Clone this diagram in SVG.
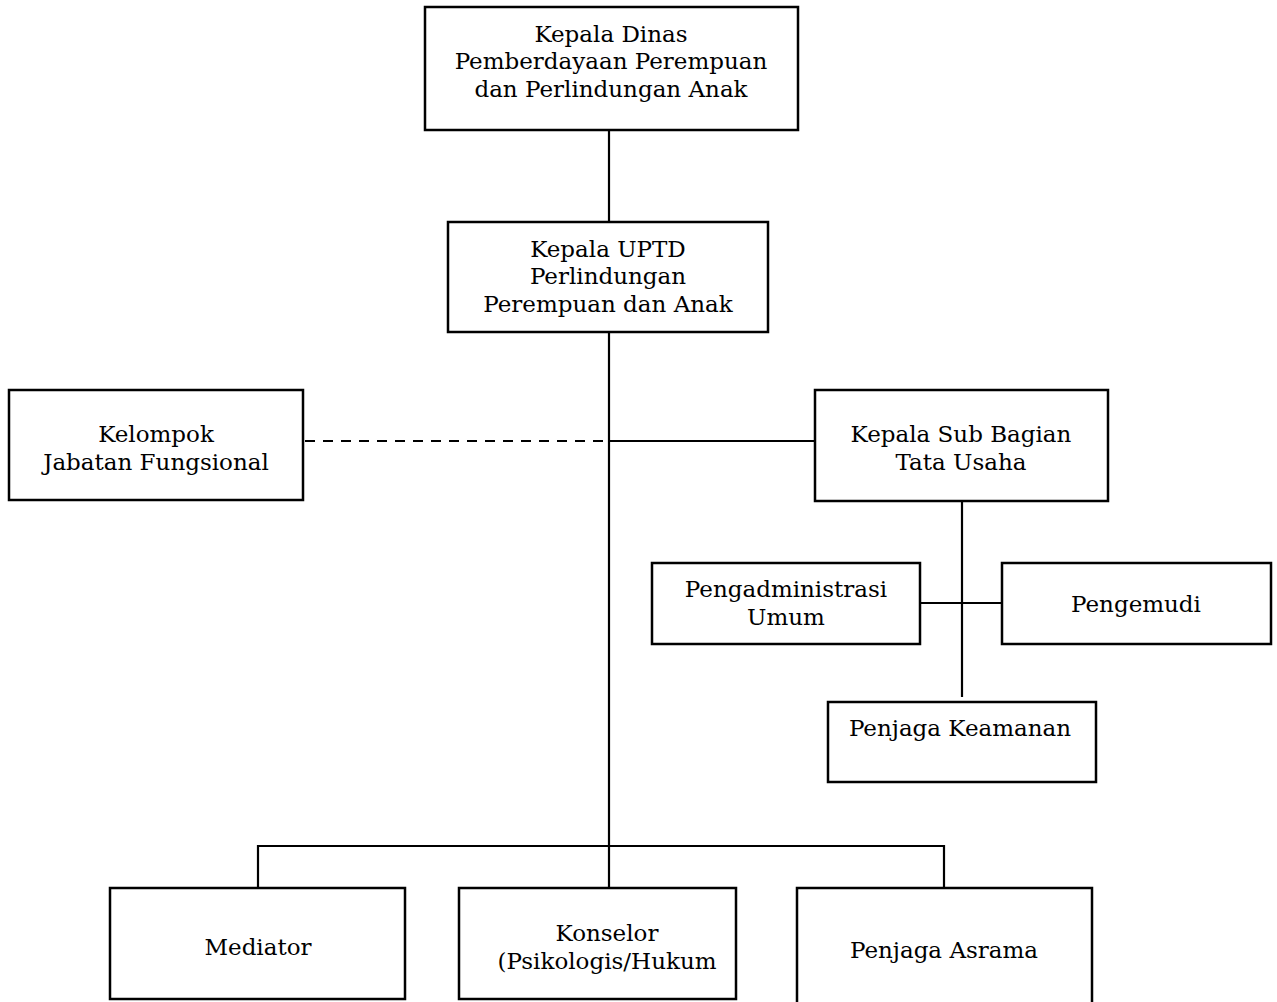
<svg xmlns="http://www.w3.org/2000/svg" width="1277" height="1002" viewBox="0 0 1277 1002">
<style>
  .box { fill: #ffffff; stroke: #000000; stroke-width: 2.5; }
  .ln { fill: none; stroke: #000000; stroke-width: 2.2; }
  .dash { fill: none; stroke: #000000; stroke-width: 2.2; stroke-dasharray: 10 8; }
  text { font-family: "DejaVu Serif", "Liberation Serif", serif; font-size: 23px; fill: #000000; text-anchor: middle; }
</style>
<rect x="0" y="0" width="1277" height="1002" fill="#ffffff"/>
<g id="connectors">
  <line class="ln" x1="609" y1="130" x2="609" y2="222"/>
  <line class="ln" x1="609" y1="332" x2="609" y2="888"/>
  <line class="dash" x1="305" y1="441" x2="609" y2="441"/>
  <line class="ln" x1="609" y1="441" x2="815" y2="441"/>
  <line class="ln" x1="962" y1="501" x2="962" y2="697"/>
  <line class="ln" x1="920" y1="603" x2="1002" y2="603"/>
  <polyline class="ln" points="258,888 258,846 944,846 944,888"/>
</g>
<g id="kepala-dinas">
  <rect class="box" x="425" y="7" width="373" height="123"/>
  <text x="611" y="42">Kepala Dinas</text>
  <text x="611" y="69">Pemberdayaan Perempuan</text>
  <text x="611" y="97">dan Perlindungan Anak</text>
</g>
<g id="kepala-uptd">
  <rect class="box" x="448" y="222" width="320" height="110"/>
  <text x="608" y="257">Kepala UPTD</text>
  <text x="608" y="284">Perlindungan</text>
  <text x="608" y="312">Perempuan dan Anak</text>
</g>
<g id="kelompok-jf">
  <rect class="box" x="9" y="390" width="294" height="110"/>
  <text x="156" y="442">Kelompok</text>
  <text x="156" y="470">Jabatan Fungsional</text>
</g>
<g id="kasubag-tu">
  <rect class="box" x="815" y="390" width="293" height="111"/>
  <text x="961" y="442">Kepala Sub Bagian</text>
  <text x="961" y="470">Tata Usaha</text>
</g>
<g id="pengadministrasi-umum">
  <rect class="box" x="652" y="563" width="268" height="81"/>
  <text x="786" y="597">Pengadministrasi</text>
  <text x="786" y="625">Umum</text>
</g>
<g id="pengemudi">
  <rect class="box" x="1002" y="563" width="269" height="81"/>
  <text x="1136" y="612">Pengemudi</text>
</g>
<g id="penjaga-keamanan">
  <rect class="box" x="828" y="702" width="268" height="80"/>
  <text x="960" y="736">Penjaga Keamanan</text>
</g>
<g id="mediator">
  <rect class="box" x="110" y="888" width="295" height="111"/>
  <text x="258" y="955">Mediator</text>
</g>
<g id="konselor">
  <rect class="box" x="459" y="888" width="277" height="111"/>
  <text x="607" y="941">Konselor</text>
  <text x="607" y="969">(Psikologis/Hukum</text>
</g>
<g id="penjaga-asrama">
  <rect class="box" x="797" y="888" width="295" height="120"/>
  <text x="944" y="958">Penjaga Asrama</text>
</g>
</svg>
